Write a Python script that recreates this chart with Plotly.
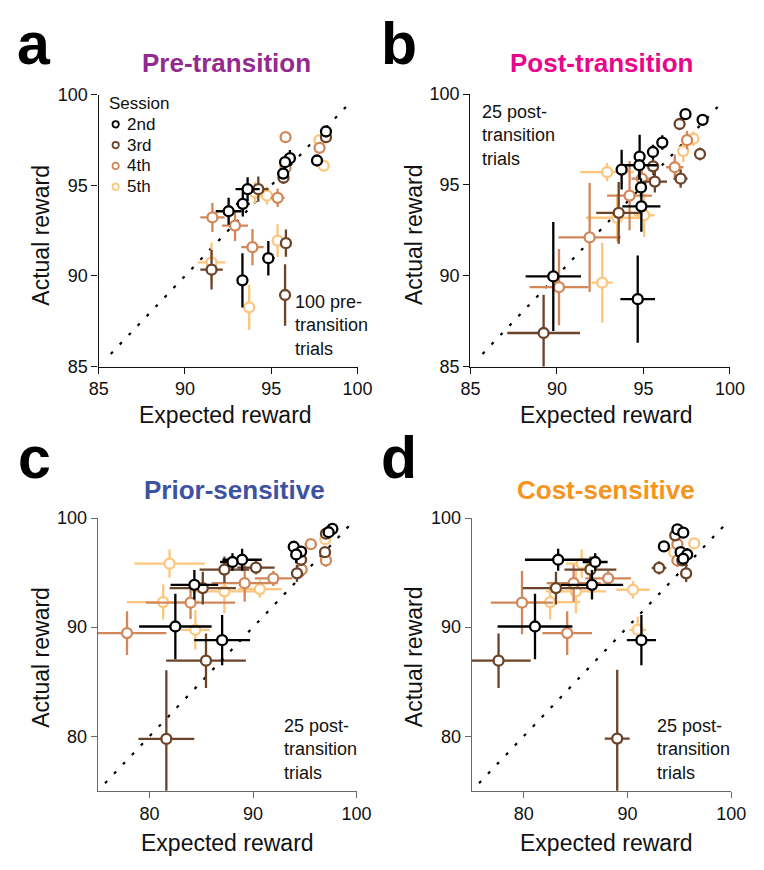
import plotly.graph_objects as go

# ---------------- data ----------------
SESSIONS = ["2nd", "3rd", "4th", "5th"]
SESSION_COLORS = {"2nd": "#000000", "3rd": "#6b4328", "4th": "#d2875a", "5th": "#fdc67c"}

# Panel a: pre-transition (expected x, actual y, x error, y error)
a_2nd_x = [98.17, 97.65, 96.08, 95.80, 95.69, 93.63, 93.35, 92.53, 94.83, 93.33]
a_2nd_y = [97.97, 96.37, 96.50, 96.28, 95.65, 94.79, 93.98, 93.57, 90.98, 89.76]
a_2nd_xe = [0.15, 0.15, 0.28, 0.15, 0.15, 0.70, 0.40, 0.75, 0.35, 0.10]
a_2nd_ye = [0.25, 0.30, 0.45, 0.35, 0.30, 0.65, 0.70, 0.75, 0.95, 1.50]

a_3rd_x = [98.17, 95.71, 94.25, 95.85, 91.54, 95.80]
a_3rd_y = [97.66, 95.42, 94.79, 91.81, 90.35, 88.95]
a_3rd_xe = [0.15, 0.15, 0.60, 0.20, 0.65, 0.10]
a_3rd_ye = [0.20, 0.30, 0.70, 0.75, 1.10, 1.70]

a_4th_x = [95.83, 97.80, 95.83, 95.37, 91.59, 92.90, 93.91]
a_4th_y = [97.66, 97.07, 95.96, 94.31, 93.23, 92.78, 91.59]
a_4th_xe = [0.15, 0.15, 0.15, 0.40, 0.70, 0.75, 0.65]
a_4th_ye = [0.25, 0.25, 0.30, 0.50, 0.80, 0.85, 1.00]

a_5th_x = [97.80, 98.04, 94.75, 94.06, 95.37, 91.54, 93.72]
a_5th_y = [97.49, 96.08, 94.43, 94.60, 91.95, 90.75, 88.27]
a_5th_xe = [0.15, 0.15, 0.40, 0.50, 0.15, 0.80, 0.10]
a_5th_ye = [0.25, 0.30, 0.50, 0.60, 0.90, 1.10, 1.25]

# Panel b: post-transition
b_2nd_x = [97.43, 98.42, 96.09, 95.55, 94.78, 94.76, 93.74, 94.86, 94.88, 89.79, 94.67]
b_2nd_y = [98.89, 98.58, 97.33, 96.81, 96.56, 96.08, 95.84, 94.86, 93.82, 89.96, 88.71]
b_2nd_xe = [0.20, 0.15, 0.25, 0.20, 0.20, 1.05, 0.20, 0.20, 1.10, 1.60, 1.00]
b_2nd_ye = [0.15, 0.30, 0.40, 0.40, 1.20, 0.80, 1.10, 0.50, 1.40, 3.00, 2.40]

b_3rd_x = [97.09, 98.27, 97.15, 95.66, 95.56, 93.57, 89.23]
b_3rd_y = [98.35, 96.70, 95.34, 95.18, 96.02, 93.46, 86.85]
b_3rd_xe = [0.30, 0.15, 0.40, 0.70, 0.20, 1.30, 2.10]
b_3rd_ye = [0.25, 0.35, 0.50, 0.60, 0.40, 1.70, 2.10]

b_4th_x = [97.52, 96.81, 94.91, 94.20, 91.89, 90.12]
b_4th_y = [97.46, 95.97, 95.34, 94.41, 92.11, 89.37]
b_4th_xe = [0.35, 0.50, 0.60, 1.30, 1.80, 1.70]
b_4th_ye = [0.50, 0.70, 0.80, 1.90, 3.00, 2.10]

b_5th_x = [97.89, 97.30, 92.90, 93.48, 95.04, 92.62]
b_5th_y = [97.54, 96.86, 95.70, 93.19, 93.33, 89.62]
b_5th_xe = [0.30, 0.25, 1.55, 1.80, 0.60, 0.60]
b_5th_ye = [0.40, 0.60, 0.50, 1.30, 1.20, 2.20]

# Panel c: prior-sensitive model
c_2nd_x = [97.66, 97.30, 93.93, 94.64, 94.17, 88.94, 88.01, 84.33, 82.49, 87.01]
c_2nd_y = [99.01, 98.70, 97.37, 96.93, 96.66, 96.18, 95.97, 93.88, 90.06, 88.81]
c_2nd_xe = [0.30, 0.30, 0.50, 0.40, 0.30, 1.90, 1.20, 2.30, 3.50, 2.70]
c_2nd_ye = [0.30, 0.30, 0.40, 0.50, 0.80, 1.00, 0.80, 1.35, 3.00, 2.30]

c_3rd_x = [97.04, 96.95, 94.64, 94.24, 90.28, 87.23, 85.14, 85.45, 81.62]
c_3rd_y = [98.57, 96.87, 96.18, 94.93, 95.46, 95.28, 93.58, 86.93, 79.76]
c_3rd_xe = [0.30, 0.50, 0.40, 0.30, 1.80, 2.40, 3.20, 3.85, 2.70]
c_3rd_ye = [0.30, 0.40, 0.50, 0.80, 0.60, 1.20, 1.50, 2.50, 6.30]

c_4th_x = [97.04, 95.58, 94.70, 91.96, 89.19, 83.96, 77.82]
c_4th_y = [96.12, 97.61, 95.28, 94.48, 94.03, 92.24, 89.46]
c_4th_xe = [0.40, 0.60, 0.40, 1.80, 3.20, 4.30, 3.80]
c_4th_ye = [0.60, 0.50, 0.70, 0.70, 1.70, 1.50, 2.00]

c_5th_x = [96.98, 81.93, 90.65, 87.23, 81.31, 84.42]
c_5th_y = [98.06, 95.82, 93.49, 93.28, 92.30, 89.76]
c_5th_xe = [0.40, 3.40, 2.10, 3.40, 3.50, 1.40]
c_5th_ye = [0.40, 1.30, 0.80, 2.00, 1.60, 1.80]

# Panel d: cost-sensitive model
d_2nd_x = [94.81, 95.37, 93.51, 95.12, 95.75, 95.37, 83.32, 86.89, 86.58, 81.09, 91.34]
d_2nd_y = [98.96, 98.66, 97.40, 96.87, 96.66, 96.27, 96.18, 95.97, 93.88, 90.06, 88.81]
d_2nd_xe = [0.30, 0.40, 0.50, 0.30, 0.30, 0.30, 3.20, 1.20, 3.00, 3.60, 1.40]
d_2nd_ye = [0.20, 0.20, 0.30, 0.30, 0.60, 0.40, 1.00, 0.80, 1.35, 3.00, 2.30]

d_3rd_x = [94.60, 95.28, 95.65, 93.04, 86.43, 83.11, 77.58, 89.01]
d_3rd_y = [98.42, 96.12, 94.93, 95.43, 95.28, 93.58, 86.93, 79.79]
d_3rd_xe = [0.30, 0.30, 0.30, 0.70, 2.50, 3.20, 3.10, 1.20]
d_3rd_ye = [0.30, 0.50, 0.80, 0.60, 1.20, 1.50, 2.50, 6.30]

d_4th_x = [94.81, 94.81, 88.14, 84.81, 79.84, 84.19]
d_4th_y = [97.61, 96.12, 94.48, 94.03, 92.24, 89.46]
d_4th_xe = [0.40, 0.40, 2.20, 2.60, 3.00, 2.40]
d_4th_ye = [0.50, 0.60, 0.70, 1.70, 2.90, 2.00]

d_5th_x = [96.43, 94.50, 85.59, 90.53, 85.03, 82.55, 90.99]
d_5th_y = [97.67, 96.87, 95.82, 93.43, 93.28, 92.30, 89.76]
d_5th_xe = [0.50, 0.40, 1.50, 1.60, 2.90, 2.90, 0.80]
d_5th_ye = [0.40, 0.50, 1.30, 0.80, 2.00, 1.60, 1.20]

PANELS = {
    "a": {"2nd": (a_2nd_x, a_2nd_y, a_2nd_xe, a_2nd_ye), "3rd": (a_3rd_x, a_3rd_y, a_3rd_xe, a_3rd_ye),
          "4th": (a_4th_x, a_4th_y, a_4th_xe, a_4th_ye), "5th": (a_5th_x, a_5th_y, a_5th_xe, a_5th_ye)},
    "b": {"2nd": (b_2nd_x, b_2nd_y, b_2nd_xe, b_2nd_ye), "3rd": (b_3rd_x, b_3rd_y, b_3rd_xe, b_3rd_ye),
          "4th": (b_4th_x, b_4th_y, b_4th_xe, b_4th_ye), "5th": (b_5th_x, b_5th_y, b_5th_xe, b_5th_ye)},
    "c": {"2nd": (c_2nd_x, c_2nd_y, c_2nd_xe, c_2nd_ye), "3rd": (c_3rd_x, c_3rd_y, c_3rd_xe, c_3rd_ye),
          "4th": (c_4th_x, c_4th_y, c_4th_xe, c_4th_ye), "5th": (c_5th_x, c_5th_y, c_5th_xe, c_5th_ye)},
    "d": {"2nd": (d_2nd_x, d_2nd_y, d_2nd_xe, d_2nd_ye), "3rd": (d_3rd_x, d_3rd_y, d_3rd_xe, d_3rd_ye),
          "4th": (d_4th_x, d_4th_y, d_4th_xe, d_4th_ye), "5th": (d_5th_x, d_5th_y, d_5th_xe, d_5th_ye)},
}

TITLES = {"a": "Pre-transition", "b": "Post-transition", "c": "Prior-sensitive", "d": "Cost-sensitive"}
TITLE_COLORS = {"a": "#952a8e", "b": "#e8078a", "c": "#3d52a1", "d": "#f7941d"}
NOTES = {"a": "100 pre-<br>transition<br>trials", "b": "25 post-<br>transition<br>trials",
         "c": "25 post-<br>transition<br>trials", "d": "25 post-<br>transition<br>trials"}
RANGES = {"a": [85, 100], "b": [85, 100], "c": [75, 100], "d": [75, 100]}
TICKS = {"a": [85, 90, 95, 100], "b": [85, 90, 95, 100], "c": [80, 90, 100], "d": [80, 90, 100]}

# ---------------- layout geometry ----------------
W, H = 764, 870
# pixel boxes (left, right, top, bottom) of each plotting area
BOX = {"a": (91.7, 359.3, 86.7, 365.0), "b": (476.0, 744.3, 86.0, 365.0),
       "c": (90.8, 358.3, 520.0, 799.2), "d": (477.4, 745.7, 520.0, 799.2)}
# panel letters: (x centre, top of text box)
LETTER_POS = {"a": (25, 0), "b": (402, 0), "c": (25, 424), "d": (402, 424)}
TITLE_POS = {"a": (224, 54), "b": (611, 54), "c": (232, 491), "d": (616, 491)}
XTITLE_POS = {"a": (223, 415), "b": (617, 415), "c": (225, 853), "d": (617, 853)}
YTITLE_POS = {"a": (32, 230), "b": (417, 230), "c": (32, 662), "d": (417, 662)}
NOTE_POS = {"a": (293, 323), "b": (486, 128), "c": (281, 757), "d": (667, 757)}
AX_COLORS = {"a": "#111111", "b": "#111111", "c": "#6a6a6a", "d": "#6a6a6a"}

FONT = "Liberation Sans, Arial, sans-serif"
TXT = "#111111"


def px(x):
    return x / W


def py(y):
    return 1 - y / H


fig = go.Figure()
layout_axes = {}
annotations = []
shapes = []

for i, key in enumerate(["a", "b", "c", "d"]):
    n = i + 1
    xa = "x" if n == 1 else f"x{n}"
    ya = "y" if n == 1 else f"y{n}"
    l, r, t, b = BOX[key]
    lo, hi = RANGES[key]

    # identity reference line
    fig.add_trace(go.Scatter(
        x=[lo + 0.7, hi - 0.4], y=[lo + 0.7, hi - 0.4], mode="lines",
        line=dict(color="black", width=2.2, dash="3px,10px"),
        xaxis=xa, yaxis=ya, showlegend=False, hoverinfo="skip"))

    for s in reversed(SESSIONS):
        xs, ys, xe, ye = PANELS[key][s]
        col = SESSION_COLORS[s]
        fig.add_trace(go.Scatter(
            x=xs, y=ys, mode="markers", name=s,
            marker=dict(symbol="circle", size=10, color="white", line=dict(color=col, width=2.3)),
            error_x=dict(type="data", array=xe, color=col, thickness=2.3, width=0),
            error_y=dict(type="data", array=ye, color=col, thickness=2.3, width=0),
            xaxis=xa, yaxis=ya, showlegend=False))

    ac = AX_COLORS[key]
    axis_common = dict(
        range=[lo, hi], tickvals=TICKS[key], showline=True, linecolor=ac, linewidth=1.4,
        ticks="outside", ticklen=6, tickwidth=1.4, tickcolor=ac, showgrid=False, zeroline=False,
        tickfont=dict(family=FONT, size=18, color=TXT), fixedrange=True)
    layout_axes["xaxis" if n == 1 else f"xaxis{n}"] = dict(
        axis_common, domain=[px(l), px(r)], anchor=ya)
    layout_axes["yaxis" if n == 1 else f"yaxis{n}"] = dict(
        axis_common, domain=[py(b), py(t)], anchor=xa)

    lx, ly = LETTER_POS[key]
    annotations.append(dict(text=f"<b>{key}</b>", x=px(lx), y=py(ly),
                            xref="paper", yref="paper", xanchor="center", yanchor="top",
                            borderpad=0, showarrow=False,
                            font=dict(family=FONT, size=59, color="black")))
    tx, ty = TITLE_POS[key]
    annotations.append(dict(text=f"<b>{TITLES[key]}</b>", x=px(tx), y=py(ty),
                            xref="paper", yref="paper", xanchor="center", yanchor="middle",
                            showarrow=False, font=dict(family=FONT, size=26, color=TITLE_COLORS[key])))
    ex, ey = XTITLE_POS[key]
    annotations.append(dict(text="Expected reward", x=px(ex), y=py(ey),
                            xref="paper", yref="paper", xanchor="center", yanchor="middle",
                            showarrow=False, font=dict(family=FONT, size=23, color=TXT)))
    yx, yy = YTITLE_POS[key]
    annotations.append(dict(text="Actual reward", x=px(yx), y=py(yy),
                            xref="paper", yref="paper", xanchor="center", yanchor="middle",
                            textangle=-90, showarrow=False, font=dict(family=FONT, size=23, color=TXT)))
    nx, ny = NOTE_POS[key]
    annotations.append(dict(text=NOTES[key], x=px(nx), y=py(ny), xref="paper", yref="paper",
                            xanchor="left", yanchor="middle", align="left", showarrow=False,
                            font=dict(family=FONT, size=18, color=TXT)))

# session key in panel a
annotations.append(dict(text="Session", x=px(100), y=py(96), xref="paper", yref="paper",
                        xanchor="left", yanchor="middle", showarrow=False,
                        font=dict(family=FONT, size=17, color=TXT)))
for k, s in enumerate(SESSIONS):
    yc = 117 + 21.3 * k
    shapes.append(dict(type="circle", xref="paper", yref="paper",
                       x0=px(106), x1=px(112.5), y0=py(yc + 3.3), y1=py(yc - 3.3),
                       line=dict(color=SESSION_COLORS[s], width=1.8), fillcolor="white"))
    annotations.append(dict(text=s, x=px(119), y=py(yc), xref="paper", yref="paper",
                            xanchor="left", yanchor="middle", showarrow=False,
                            font=dict(family=FONT, size=17, color=TXT)))

fig.update_layout(
    width=W, height=H, margin=dict(l=0, r=0, t=0, b=0),
    paper_bgcolor="white", plot_bgcolor="white",
    font=dict(family=FONT, color=TXT),
    annotations=annotations, shapes=shapes, showlegend=False,
    **layout_axes,
)

fig.write_html("out.html")
